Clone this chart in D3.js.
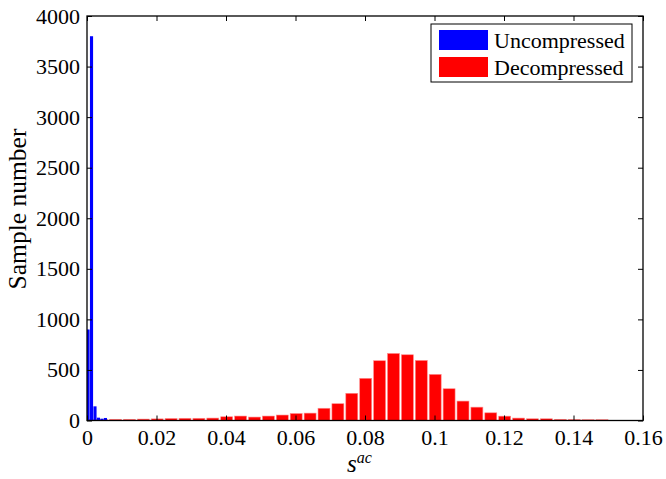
<!DOCTYPE html>
<html>
<head>
<meta charset="utf-8">
<script src="https://cdn.jsdelivr.net/npm/d3@7"></script>
<style>
  body { margin: 0; background: #fff; }
</style>
</head>
<body>
<svg id="chart" width="666" height="479"></svg>
<script>
// uncompressed histogram (blue), bin centers and counts
let blue_centers = [0.0003, 0.0013, 0.0023, 0.0033, 0.0043, 0.0053];
let blue_counts = [900, 3800, 140, 28, 18, 25];

// decompressed histogram (red)
let red_centers = [0.0002, 0.0042, 0.0082, 0.0122, 0.0162, 0.0202, 0.0242, 0.0282, 0.0322, 0.0362,
    0.0402, 0.0442, 0.0482, 0.0522, 0.0562, 0.0602, 0.0642, 0.0682, 0.0722, 0.0762,
    0.0802, 0.0842, 0.0882, 0.0922, 0.0962, 0.1002, 0.1042, 0.1082, 0.1122, 0.1162,
    0.1202, 0.1242, 0.1282, 0.1322, 0.1362, 0.1402, 0.1442, 0.1482];
let red_counts = [8, 10, 12, 12, 14, 16, 20, 22, 22, 24,
    37, 44, 34, 44, 54, 69, 73, 121, 166, 269,
    417, 591, 663, 650, 594, 456, 314, 192, 132, 76,
    43, 24, 17, 17, 12, 10, 8, 8];

let x_ticks = [0, 0.02, 0.04, 0.06, 0.08, 0.1, 0.12, 0.14, 0.16];
let y_ticks = [0, 500, 1000, 1500, 2000, 2500, 3000, 3500, 4000];
let legend_names = ["Uncompressed", "Decompressed"];
let legend_colors = ["#0000ff", "#ff0000"];

let serif = "'Liberation Serif', 'Times New Roman', Times, serif";
let plot_left = 87, plot_right = 643, plot_top = 16, plot_bottom = 420.5;
let red_width = 0.004 * 0.86;
let blue_width = 0.0009;

var svg = d3.select("#chart").attr("font-family", serif);

var x = d3.scaleLinear().domain([0, 0.16]).range([plot_left, plot_right]);
var y = d3.scaleLinear().domain([0, 4000]).range([plot_bottom, plot_top]);

var plot = svg.append("g");

plot.append("defs").append("clipPath")
    .attr("id", "plot-clip")
    .append("rect")
    .attr("x", plot_left).attr("y", plot_top)
    .attr("width", plot_right - plot_left).attr("height", plot_bottom - plot_top);

var bars = plot.append("g").attr("clip-path", "url(#plot-clip)");

bars.selectAll(".red")
    .data(red_counts)
    .enter()
    .append("rect")
    .attr("class", "red")
    .attr("x", function (d, i) { return x(red_centers[i] - red_width / 2); })
    .attr("width", x(red_width) - x(0))
    .attr("y", function (d) { return y(d); })
    .attr("height", function (d) { return plot_bottom - y(d); })
    .style("fill", legend_colors[1])
    .style("stroke", "#ff8a8a")
    .style("stroke-width", 0.6);

bars.selectAll(".blue")
    .data(blue_counts)
    .enter()
    .append("rect")
    .attr("class", "blue")
    .attr("x", function (d, i) { return x(blue_centers[i] - blue_width / 2); })
    .attr("width", x(blue_width) - x(0))
    .attr("y", function (d) { return y(d); })
    .attr("height", function (d) { return plot_bottom - y(d); })
    .style("fill", legend_colors[0]);

// axes, ticks pointing inwards like matlab
var tick_len = 5;
var fmt = function (d) { return String(+d.toFixed(2)); };

var x_axis = svg.append("g")
    .attr("transform", "translate(0," + plot_bottom + ")")
    .call(d3.axisBottom(x).tickValues(x_ticks).tickSizeInner(-tick_len).tickSizeOuter(0).tickPadding(9).tickFormat(fmt));
var x_axis_top = svg.append("g")
    .attr("transform", "translate(0," + plot_top + ")")
    .call(d3.axisTop(x).tickValues(x_ticks).tickSizeInner(-tick_len).tickSizeOuter(0).tickFormat(""));
var y_axis = svg.append("g")
    .attr("transform", "translate(" + plot_left + ",0)")
    .call(d3.axisLeft(y).tickValues(y_ticks).tickSizeInner(-tick_len).tickSizeOuter(0).tickPadding(7).tickFormat(d3.format("d")));
var y_axis_right = svg.append("g")
    .attr("transform", "translate(" + plot_right + ",0)")
    .call(d3.axisRight(y).tickValues(y_ticks).tickSizeInner(-tick_len).tickSizeOuter(0).tickFormat(""));

svg.selectAll(".domain").remove();
svg.selectAll(".tick line").style("stroke", "#000").style("stroke-width", 1);
svg.selectAll("g").attr("font-family", serif);
svg.selectAll(".tick text")
    .style("font-family", serif)
    .style("font-size", "22px")
    .style("fill", "#000");
x_axis.selectAll(".tick text").attr("dy", "0.71em");

svg.append("rect")
    .attr("x", plot_left).attr("y", plot_top)
    .attr("width", plot_right - plot_left).attr("height", plot_bottom - plot_top)
    .style("fill", "none")
    .style("stroke", "#000")
    .style("stroke-width", 1.3);

// axis titles
svg.append("text")
    .attr("transform", "translate(26,209) rotate(-90)")
    .style("text-anchor", "middle")
    .style("font-family", serif)
    .style("font-size", "25.5px")
    .text("Sample number");

var xlabel = svg.append("text")
    .attr("x", 347)
    .attr("y", 472)
    .style("font-family", serif)
    .style("font-size", "25px")
    .style("font-style", "italic");
xlabel.append("tspan").text("s");
xlabel.append("tspan")
    .attr("dy", -9)
    .style("font-size", "16px")
    .text("ac");

// legend
var legend = svg.append("g");
legend.append("rect")
    .attr("x", 431).attr("y", 24)
    .attr("width", 201).attr("height", 58)
    .style("fill", "#fff")
    .style("stroke", "#000")
    .style("stroke-width", 1);

var items = legend.selectAll(".item")
    .data(legend_names)
    .enter()
    .append("g")
    .attr("class", "item")
    .attr("transform", function (d, i) { return "translate(0," + (i * 27) + ")"; });

items.append("rect")
    .attr("x", 439).attr("y", 30)
    .attr("width", 49).attr("height", 20)
    .style("fill", function (d, i) { return legend_colors[i]; });

items.append("text")
    .attr("x", 494).attr("y", 48)
    .style("font-family", serif)
    .style("font-size", "22px")
    .text(function (d) { return d; });
</script>
</body>
</html>
